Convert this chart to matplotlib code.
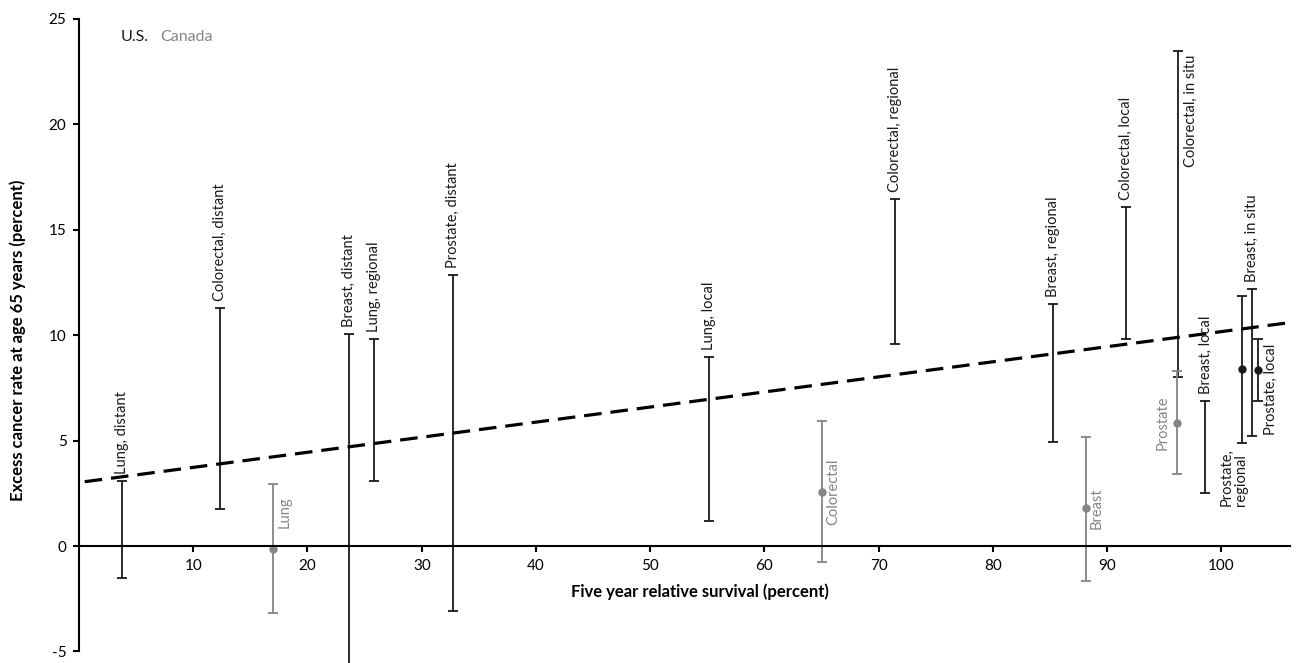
import numpy as np
import matplotlib
matplotlib.use("Agg")
import matplotlib.pyplot as plt

plt.rcParams["font.family"] = ["Lato", "DejaVu Sans"]
plt.rcParams["axes.unicode_minus"] = False

# U.S. (black) ranges
us_labels = ["Lung, distant", "Colorectal, distant", "Breast, distant", "Lung, regional",
             "Prostate, distant", "Lung, local", "Colorectal, regional", "Breast, regional",
             "Colorectal, local", "Colorectal, in situ", "Breast, local", "Prostate,\nregional",
             "Breast, in situ", "Prostate, local"]
us_survival = [3.8, 12.35, 23.6, 25.85, 32.75, 55.15, 71.4, 85.25, 91.65, 96.2, 98.6, 101.8, 102.7, 103.2]
us_low = [-1.5, 1.75, -6.0, 3.1, -3.08, 1.18, 9.57, 4.93, 9.8, 8.0, 2.5, 4.88, 5.2, 6.87]
us_high = [3.1, 11.28, 10.05, 9.8, 12.85, 8.96, 16.45, 11.47, 16.1, 23.5, 6.87, 11.85, 12.2, 9.8]
us_point = [np.nan] * 11 + [8.4, np.nan, 8.34]

# Canada (grey)
ca_labels = ["Lung", "Colorectal", "Breast", "Prostate"]
ca_survival = [17.0, 65.0, 88.1, 96.1]
ca_low = [-3.18, -0.76, -1.66, 3.4]
ca_point = [-0.14, 2.56, 1.8, 5.85]
ca_high = [2.94, 5.92, 5.17, 8.3]

# dashed trend line end points
trend_x = [0.5, 106]
trend_y = [3.05, 10.6]

US_COL = "#1a1a1a"
CA_COL = "#858585"

fig = plt.figure(figsize=(12.96, 6.63), dpi=100)
ax = fig.add_axes([79 / 1296, 0, 1211 / 1296, 644 / 663])

us_x = np.array(us_survival)
us_lo = np.array(us_low)
us_hi = np.array(us_high)
us_mid = (us_lo + us_hi) / 2
ax.errorbar(us_x, us_mid, yerr=[us_mid - us_lo, us_hi - us_mid], fmt="none",
            ecolor=US_COL, elinewidth=1.3, capsize=3.6, capthick=1.3)
ax.plot(us_x, us_point, "o", color=US_COL, ms=5)

ca_x = np.array(ca_survival)
ca_p = np.array(ca_point)
ax.errorbar(ca_x, ca_p, yerr=[ca_p - np.array(ca_low), np.array(ca_high) - ca_p], fmt="o",
            color=CA_COL, ms=5, elinewidth=1.3, capsize=3.6, capthick=1.3)

ax.plot(trend_x, trend_y, color="black", lw=2.3, dashes=(5.5, 2.8))

# label placement
lab_fs = 10.5
for name, x, lo, hi in zip(us_labels, us_x, us_lo, us_hi):
    if name == "Colorectal, in situ" or name == "Prostate, local":
        ax.annotate(name, (x, hi), xytext=(4, -3), textcoords="offset points",
                    rotation=90, ha="left", va="top", fontsize=lab_fs, color=US_COL)
    elif name.startswith("Prostate,\n"):
        ax.annotate(name, (x, lo), xytext=(-6, -4), textcoords="offset points",
                    rotation=90, ha="center", va="top", fontsize=lab_fs, color=US_COL,
                    multialignment="left", linespacing=1.0)
    else:
        ax.annotate(name, (x, hi), xytext=(0, 5), textcoords="offset points",
                    rotation=90, ha="center", va="bottom", fontsize=lab_fs, color=US_COL)

ca_label_y = {"Lung": 1.6}
for name, x, p in zip(ca_labels, ca_x, ca_p):
    y = ca_label_y.get(name, p)
    if name == "Prostate":
        ax.annotate(name, (x, y), xytext=(-5, 0), textcoords="offset points",
                    rotation=90, ha="right", va="center", fontsize=lab_fs, color=CA_COL)
    else:
        ax.annotate(name, (x, y), xytext=(3, 0), textcoords="offset points",
                    rotation=90, ha="left", va="center", fontsize=lab_fs, color=CA_COL)

ax.text(0.034, 0.972, "U.S.", transform=ax.transAxes, ha="left", va="center",
        fontsize=11.5, color=US_COL)
ax.text(0.067, 0.972, "Canada", transform=ax.transAxes, ha="left", va="center",
        fontsize=11.5, color=CA_COL)

ax.set_xlim(0, 106)
ax.set_ylim(-5.55, 25)
ax.spines["top"].set_visible(False)
ax.spines["right"].set_visible(False)
ax.spines["bottom"].set_position(("data", 0))
ax.spines["left"].set_bounds(-5, 25)
for s in ("left", "bottom"):
    ax.spines[s].set_linewidth(1.5)
ax.set_xticks(np.arange(10, 101, 10))
ax.set_yticks(np.arange(-5, 26, 5))
ax.tick_params(axis="both", direction="out", length=4, width=1.5, labelsize=11, pad=5)

ax.set_xlabel("Five year relative survival (percent)", fontsize=12, fontweight="bold")
ax.xaxis.set_label_coords((700 - 79) / 1211, (663 - 583) / 644)
ax.set_ylabel("Excess cancer rate at age 65 years (percent)", fontsize=12, fontweight="bold")
ax.yaxis.set_label_coords(-(79 - 26) / 1211, (663 - 340) / 644)

fig.savefig("out.png", dpi=100)
